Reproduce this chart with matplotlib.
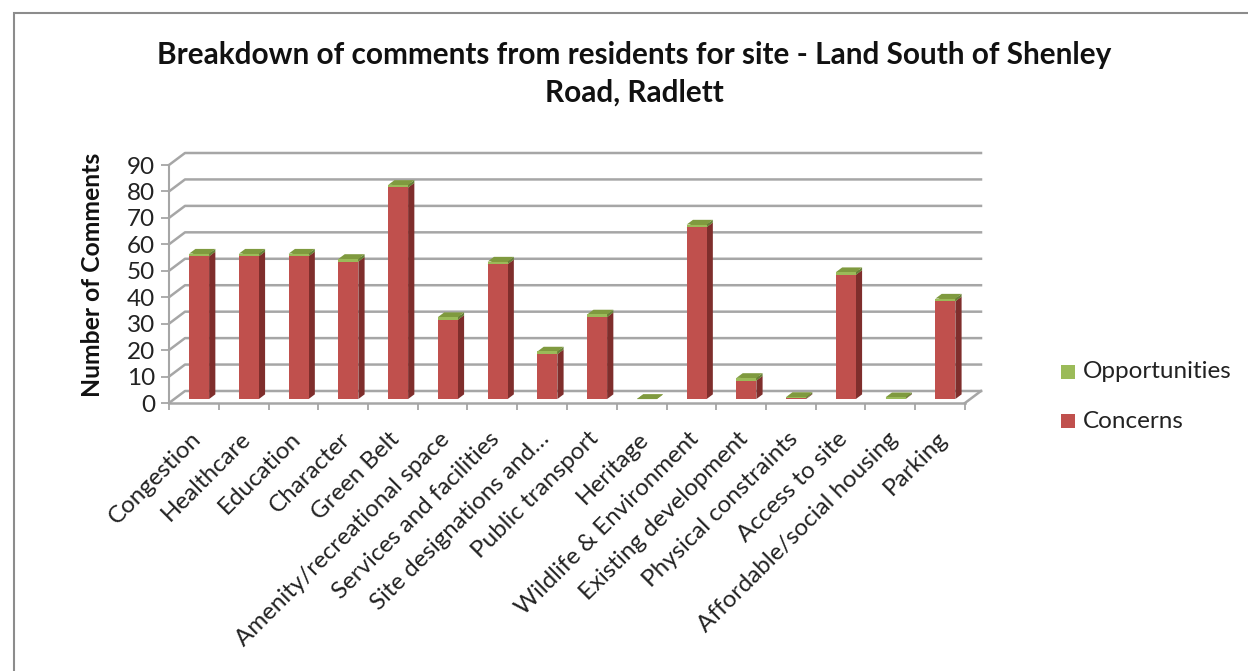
import matplotlib
matplotlib.use('Agg')
import matplotlib.pyplot as plt
from matplotlib.patches import Polygon, Rectangle
from matplotlib.transforms import ScaledTranslation

categories = ['Congestion', 'Healthcare', 'Education', 'Character', 'Green Belt',
              'Amenity/recreational space', 'Services and facilities',
              'Site designations and…', 'Public transport', 'Heritage',
              'Wildlife & Environment', 'Existing development', 'Physical constraints',
              'Access to site', 'Affordable/social housing', 'Parking']
concerns = [54, 54, 54, 52, 80, 30, 51, 17, 31, 0, 65, 7, 0.3, 47, 0.2, 37]
opportunities = [1, 1, 1, 1, 1, 1, 1, 1, 1, 0, 1, 1, 0.5, 1, 0.5, 1]
yticks = list(range(0, 100, 10))

plt.rcParams['font.family'] = ['Lato', 'DejaVu Sans']

W, H = 1248, 671
fig = plt.figure(figsize=(W / 100, H / 100), dpi=100)

# frame of the chart area
fig.add_artist(Rectangle((14 / W, -0.01), 1.1, 1 - 13 / H + 0.01, transform=fig.transFigure,
                         fc='white', ec='#8c8c8c', lw=1.5, zorder=-5))

x0, x1, y0, y1 = 169, 965, 403, 165
ax = fig.add_axes([x0 / W, 1 - y0 / H, (x1 - x0) / W, (y0 - y1) / H])
ax.set_xlim(0, 16)
ax.set_ylim(0, 90)
ax.patch.set_visible(False)

# depth of the fake 3d box, in data units
px = 16 / (x1 - x0) * 16
py = 12 / (y0 - y1) * 90
grid_c = '#a6a6a6'

for v in yticks:
    ax.plot([0, px, 16 + px], [v, v + py, v + py], color=grid_c, lw=1.8, clip_on=False, zorder=1)
ax.plot([16, 16 + px], [0, py], color=grid_c, lw=1.8, clip_on=False, zorder=1)


def box(x, w, b, t, d0, d1, front, side, top):
    ox0, oy0 = px * d0, py * d0
    ox1, oy1 = px * d1, py * d1
    l, r = x + ox0, x + w + ox0
    lo, hi = b + oy0, t + oy0
    dx, dy = ox1 - ox0, oy1 - oy0
    ax.add_patch(Polygon([(r, lo), (r + dx, lo + dy), (r + dx, hi + dy), (r, hi)],
                         fc=side, ec='none', clip_on=False, zorder=3))
    ax.add_patch(Polygon([(l, hi), (r, hi), (r + dx, hi + dy), (l + dx, hi + dy)],
                         fc=top, ec='none', clip_on=False, zorder=3))
    ax.add_patch(Rectangle((l, lo), w, hi - lo, fc=front, ec='none', clip_on=False, zorder=4))


for i in range(len(categories)):
    c = concerns[i]
    o = opportunities[i]
    box(i + 0.3, 0.4, 0, c, 0.33, 0.72, '#c0504d', '#7f2e2c', '#8a9a3b')
    box(i + 0.3, 0.4, c, c + o, 0.33, 0.72, '#9bbb59', '#66803a', '#7f9a3f')

ax.spines['top'].set_visible(False)
ax.spines['right'].set_visible(False)
ax.spines['left'].set_color(grid_c)
ax.spines['bottom'].set_color(grid_c)
ax.spines['left'].set_linewidth(1.5)
ax.spines['bottom'].set_linewidth(1.8)

ax.set_yticks(yticks)
ax.tick_params(axis='y', colors=grid_c, labelcolor='#222222', labelsize=17.5, length=6, width=1.3, pad=4)
ax.set_xticks(range(17))
ax.set_xticklabels([])
ax.tick_params(axis='x', which='major', colors=grid_c, length=5, width=1.3)
ax.set_xticks([i + 0.5 for i in range(16)], minor=True)
ax.set_xticklabels(categories, minor=True, rotation=45, ha='right', va='top',
                   rotation_mode='anchor', fontsize=17.4, color='#222222')
ax.tick_params(axis='x', which='minor', length=0, pad=18)
for lab in ax.get_xticklabels(minor=True):
    lab.set_transform(lab.get_transform() + ScaledTranslation(-4 / 100, 0, fig.dpi_scale_trans))

fig.text(92 / W, 1 - 275 / H, 'Number of Comments', rotation=90, ha='center', va='center',
         fontsize=17.8, fontweight='bold', color='#111111')
fig.text(634 / W, 1 - 55 / H, 'Breakdown of comments from residents for site - Land South of Shenley',
         ha='center', va='center', fontsize=21.4, fontweight='bold', color='#111111')
fig.text(634 / W, 1 - 93 / H, 'Road, Radlett', ha='center', va='center',
         fontsize=21.4, fontweight='bold', color='#111111')

# legend
for label, col, yp in [('Opportunities', '#9bbb59', 372), ('Concerns', '#c0504d', 421)]:
    fig.add_artist(Rectangle((1061 / W, 1 - (yp + 7) / H), 14 / W, 14 / H, transform=fig.transFigure,
                             fc=col, ec='none'))
    fig.text(1083 / W, 1 - yp / H, label, ha='left', va='center', fontsize=17.5, color='#222222')

fig.savefig('out.png', dpi=100)
